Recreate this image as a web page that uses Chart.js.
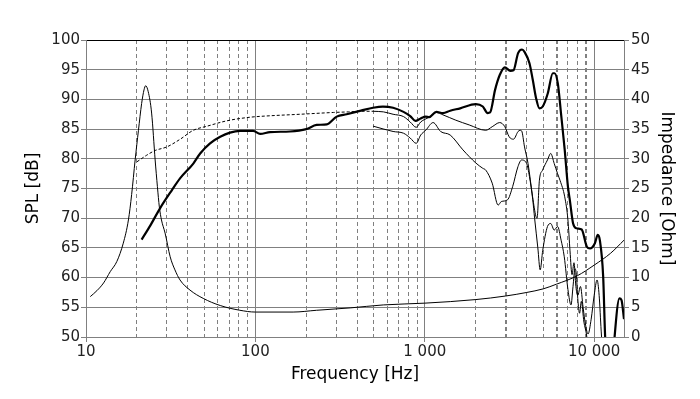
<!DOCTYPE html>
<html>
<head>
<meta charset="utf-8">
<script src="https://cdn.jsdelivr.net/npm/chart.js@4/dist/chart.umd.min.js"></script>
<style>
  html, body { margin: 0; padding: 0; background: #ffffff; }
  #c { display: block; }
</style>
</head>
<body>
<canvas id="c" width="700" height="399"></canvas>
<script>
// ---- tick definitions ----
const freqTicks = [10,20,30,40,50,60,70,80,90,100,200,300,400,500,600,700,800,900,
                   1000,2000,3000,4000,5000,6000,7000,8000,9000,10000];
const tickDecades = [10, 100, 1000, 10000];
const tickDecadeLabels = ['10', '100', '1 000', '10 000'];
const boldGridFreqs = [3000, 6000, 9000];

// ---- impedance (Ohm) ----
const impFreq = [10.6, 11.6, 12.7, 13.9, 15.2, 16.6, 17.8, 18.6, 19.5, 20.4, 21.3, 22.0, 22.5, 23.3, 24.4, 25.6, 26.4, 27.1, 27.9, 29.3, 31.4, 33.5, 35.9, 41.1, 49.2, 62, 81, 100, 167, 230, 363, 569, 1000, 2000, 3000, 4000, 5000, 6000, 7940, 10000, 12500, 15000];
const impOhm  = [6.8, 7.8, 9.1, 11.0, 12.7, 15.8, 19.7, 24.0, 29.8, 34.8, 39.3, 41.6, 42.3, 41.3, 37.7, 29.8, 25.3, 21.9, 19.7, 17.5, 13.5, 11.3, 9.6, 7.9, 6.5, 5.3, 4.5, 4.2, 4.2, 4.5, 4.9, 5.4, 5.7, 6.3, 6.9, 7.5, 8.1, 8.9, 10.3, 12.1, 14.1, 16.3];

// ---- SPL on-axis (thick) ----
const onFreq = [21.3, 24, 27.4, 32.1, 35.9, 43, 47.2, 54, 62, 70.8, 81.2, 97, 106.7, 122, 160, 200, 230, 264, 302, 346, 420, 495, 566, 650, 749, 820, 880, 946, 1013, 1060, 1170, 1280, 1413, 1618, 2000, 2200, 2350, 2430, 2600, 2770, 2970, 3200, 3340, 3555, 3750, 3880, 4150, 4340, 4540, 4750, 4970, 5320, 5700, 5830, 6100, 6400, 6700, 7000, 7180, 7510, 7870, 8440, 9050, 9450, 10100, 10500, 10800, 11300, 11600, 12000, 12800, 13200, 14100, 14500, 15000];
const onDb   = [66.4, 68.8, 71.7, 74.7, 76.7, 79.2, 80.9, 82.6, 83.7, 84.4, 84.7, 84.7, 84.2, 84.5, 84.6, 85.0, 85.7, 85.8, 87.1, 87.5, 88.1, 88.6, 88.8, 88.6, 87.9, 87.2, 86.4, 86.8, 87.1, 87.0, 87.9, 87.7, 88.1, 88.5, 89.2, 88.8, 87.7, 87.8, 91.6, 94.1, 95.4, 94.8, 94.9, 97.8, 98.4, 98.0, 96.1, 93.3, 90.2, 88.5, 88.8, 91.0, 94.4, 94.4, 92.7, 87.1, 81.5, 75.3, 73.1, 69.1, 68.3, 68.1, 65.2, 64.9, 65.8, 67.2, 66.3, 60.2, 50.3, 44, 44, 50, 56.5, 56.2, 53.0];

// ---- SPL 30 deg (thin, upper) ----
const a30Freq = [495, 570, 650, 750, 820, 890, 946, 1060, 1170, 1280, 1525, 1830, 2290, 2500, 2770, 2970, 3150, 3340, 3555, 3650, 3730, 3880, 4070, 4330, 4530, 4600, 4750, 4960, 5300, 5540, 5810, 6080, 6300, 6700, 7000, 7200, 7400, 7600, 7800, 8000, 8300, 8600, 8900, 9200, 9600, 10000, 10400, 10700, 11000, 11300];
const a30Db   = [88.0, 87.9, 87.5, 87.1, 86.2, 85.3, 86.2, 87.0, 87.8, 87.4, 86.5, 85.7, 84.8, 85.4, 86.1, 85.4, 83.7, 83.3, 84.6, 84.8, 84.7, 82.0, 79.2, 73.6, 70.3, 70.0, 76.4, 78.1, 79.8, 80.9, 79.2, 77.5, 76.3, 73.6, 69.7, 64.5, 60.5, 62.5, 58.5, 57.0, 58.5, 55.0, 52.0, 50.5, 53.0, 57.0, 59.6, 57.0, 51.0, 46.0];

// ---- SPL 60 deg (thin, lower) ----
const a60Freq = [495, 650, 750, 820, 890, 946, 1013, 1120, 1240, 1413, 1680, 2000, 2200, 2290, 2500, 2710, 2830, 3080, 3300, 3550, 3730, 3990, 4150, 4340, 4450, 4650, 4800, 4970, 5300, 5540, 5810, 6080, 6380, 6660, 7000, 7300, 7500, 7700, 7850, 8000, 8200, 8400, 8700, 9000, 9300];
const a60Db   = [85.5, 84.6, 84.3, 83.5, 82.6, 84.0, 84.8, 86.1, 84.6, 84.0, 81.5, 79.3, 78.4, 78.1, 75.9, 72.2, 72.8, 73.1, 75.3, 78.7, 79.8, 79.2, 77.0, 73.1, 70.0, 65.0, 61.3, 64.6, 68.6, 69.1, 68.0, 68.6, 66.3, 63.5, 58.0, 55.4, 58.5, 61.5, 60.5, 56.5, 54.0, 56.0, 52.5, 50.5, 47.0];

// ---- dashed SPL curve ----
const dFreq = [20, 22.8, 25.6, 30, 36, 43, 52, 68, 93, 115, 184, 289, 355, 420, 495];
const dDb   = [79.5, 80.6, 81.4, 82.0, 83.3, 84.8, 85.5, 86.4, 87.0, 87.2, 87.5, 87.8, 87.9, 88.0, 88.0];

const toXY = (xs, ys) => xs.map((x, i) => ({ x: x, y: ys[i] }));

const FONT = "'DejaVu Sans', Verdana, sans-serif";
const GRID = '#808080';
const tickFont = { family: FONT, size: 15 };
const titleFont = { family: FONT, size: 17 };

const lineBase = { borderColor: '#000', pointRadius: 0, fill: false, cubicInterpolationMode: 'monotone' };

new Chart(document.getElementById('c'), {
  type: 'line',
  data: {
    datasets: [
      Object.assign({ label: 'Impedance', data: toXY(impFreq, impOhm), yAxisID: 'yR', borderWidth: 1 }, lineBase),
      Object.assign({ label: 'dashed', data: toXY(dFreq, dDb), yAxisID: 'y', borderWidth: 1, borderDash: [3, 2] }, lineBase),
      Object.assign({ label: '60', data: toXY(a60Freq, a60Db), yAxisID: 'y', borderWidth: 1 }, lineBase),
      Object.assign({ label: '30', data: toXY(a30Freq, a30Db), yAxisID: 'y', borderWidth: 1 }, lineBase),
      Object.assign({ label: '0', data: toXY(onFreq, onDb), yAxisID: 'y', borderWidth: 2.2 }, lineBase)
    ]
  },
  options: {
    responsive: false,
    devicePixelRatio: 1,
    animation: false,
    parsing: true,
    layout: { padding: { top: 40, left: 0, right: 0, bottom: 0 } },
    plugins: { legend: { display: false }, tooltip: { enabled: false } },
    scales: {
      x: {
        type: 'logarithmic',
        min: 10,
        max: 15000,
        afterBuildTicks: (s) => { s.ticks = freqTicks.map(v => ({ value: v })); },
        afterFit: (s) => { s.height = 62; },
        ticks: {
          autoSkip: false,
          maxRotation: 0,
          padding: 1,
          color: '#222',
          font: tickFont,
          callback: (v) => { const i = tickDecades.indexOf(v); return i >= 0 ? tickDecadeLabels[i] : ''; }
        },
        grid: {
          color: GRID,
          lineWidth: (ctx) => (ctx.tick && boldGridFreqs.includes(ctx.tick.value)) ? 2 : 1,
          tickLength: 5,
          tickColor: (ctx) => (ctx.tick && tickDecades.includes(ctx.tick.value)) ? GRID : 'rgba(0,0,0,0)'
        },
        border: {
          display: true,
          color: GRID,
          dash: (ctx) => (ctx.tick && !tickDecades.includes(ctx.tick.value)) ? [4, 3] : []
        },
        title: { display: true, text: 'Frequency [Hz]', color: '#000', font: titleFont, padding: { top: 0, bottom: 14 } }
      },
      y: {
        position: 'left',
        min: 50,
        max: 100,
        afterFit: (s) => { s.width = 86; },
        ticks: { stepSize: 5, padding: 1, color: '#222', font: tickFont },
        grid: {
          color: (ctx) => (ctx.tick && ctx.tick.value === 100) ? '#000' : GRID,
          tickColor: GRID,
          tickLength: 5
        },
        border: { display: true, color: GRID },
        title: { display: true, text: 'SPL [dB]', color: '#000', font: titleFont, padding: { top: 23, bottom: 0 } }
      },
      yR: {
        position: 'right',
        min: 0,
        max: 50,
        afterFit: (s) => { s.width = 76; },
        ticks: { stepSize: 5, padding: 2, color: '#222', font: tickFont },
        grid: { drawOnChartArea: false, tickColor: GRID, tickLength: 5 },
        border: { display: true, color: GRID },
        title: { display: true, text: 'Impedance [Ohm]', color: '#000', font: titleFont, padding: { top: 23, bottom: 0 } }
      }
    }
  }
});
</script>
</body>
</html>
